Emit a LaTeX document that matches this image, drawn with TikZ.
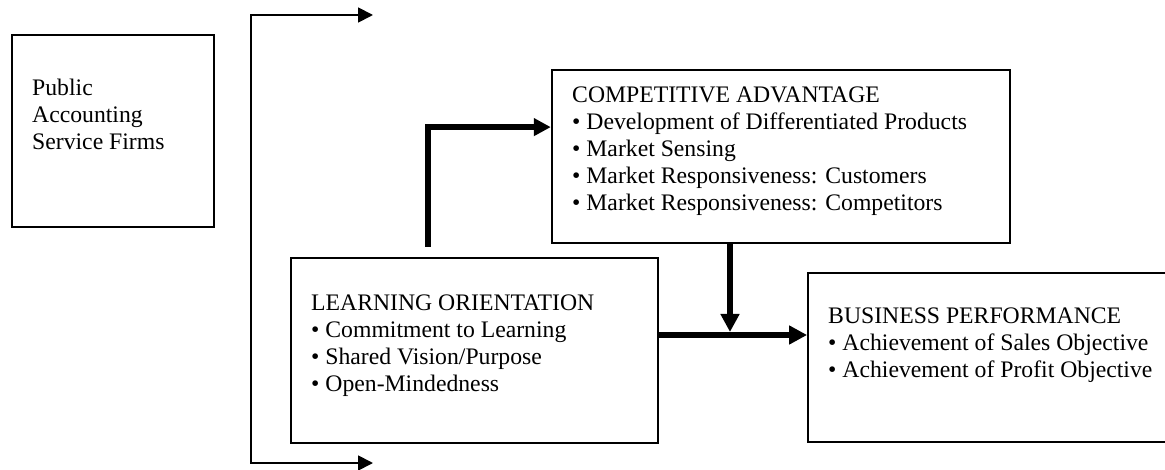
\documentclass[tikz,border=0pt]{standalone}
\usepackage{fontspec}
\setmainfont{Liberation Serif}
\usetikzlibrary{arrows.meta}
\tikzset{
  box/.style={draw=black, line width=1.8pt, rectangle, inner sep=0pt, fill=none},
  txt/.style={anchor=north west, inner sep=0pt, align=left, font=\fontsize{23.7}{27}\selectfont},
  thinarrow/.style={line width=1.8pt, {Triangle[length=15pt,width=15pt]}-{Triangle[length=15pt,width=15pt]}},
  thickl/.style={line width=5.5pt, -{Triangle[length=17pt,width=17pt]}},
  thickarrow/.style={line width=6.5pt, -{Triangle[length=18pt,width=18pt]}}
}
\newcommand{\fl}{\rule{0pt}{17pt}}
\begin{document}
\begin{tikzpicture}[x=1pt,y=-1pt]
\useasboundingbox (0,0) rectangle (1165,470);
% boxes
\node[box, minimum width=202.3pt, minimum height=192pt] (pub) at (112.85,131) {};
\node[box, minimum width=458.3pt, minimum height=173pt] (comp) at (780.85,156.5) {};
\node[box, minimum width=367pt, minimum height=185pt] (learn) at (474.2,350.5) {};
\node[box, minimum width=360pt, minimum height=169pt] (bus) at (988,357.5) {};
% texts
\node[txt] (pubt) at (32,78) {\fl Public\\Accounting\\Service Firms};
\node[txt] (compt) at (572,85.7) {\fl COMPETITIVE ADVANTAGE\\• Development of Differentiated Products\\• Market Sensing\\• Market Responsiveness: Customers\\• Market Responsiveness: Competitors};
\node[txt] (learnt) at (311,293) {\fl LEARNING ORIENTATION\\• Commitment to Learning\\• Shared Vision/Purpose\\• Open-Mindedness};
\node[txt] (bust) at (828,306) {\fl BUSINESS PERFORMANCE\\• Achievement of Sales Objective\\• Achievement of Profit Objective};
% bracket
\coordinate (bt) at (373,15);
\coordinate (bb) at (373,463);
\draw[thinarrow] (bt) -- ++(-122.3,0) |- (bb);
% L arrow from learning to competitive
\coordinate (ls) at (428,247);
\draw[thickl] (ls) |- ([yshift=-58pt]comp.north west);
% learning -> business
\draw[thickarrow] ([yshift=15.5pt]learn.east) coordinate (lo) -- (lo -| bus.west);
% competitive -> junction
\draw[thickarrow] ([xshift=-50.85pt]comp.south) coordinate (cs) -- ([yshift=3pt]cs |- lo);
\end{tikzpicture}
\end{document}
